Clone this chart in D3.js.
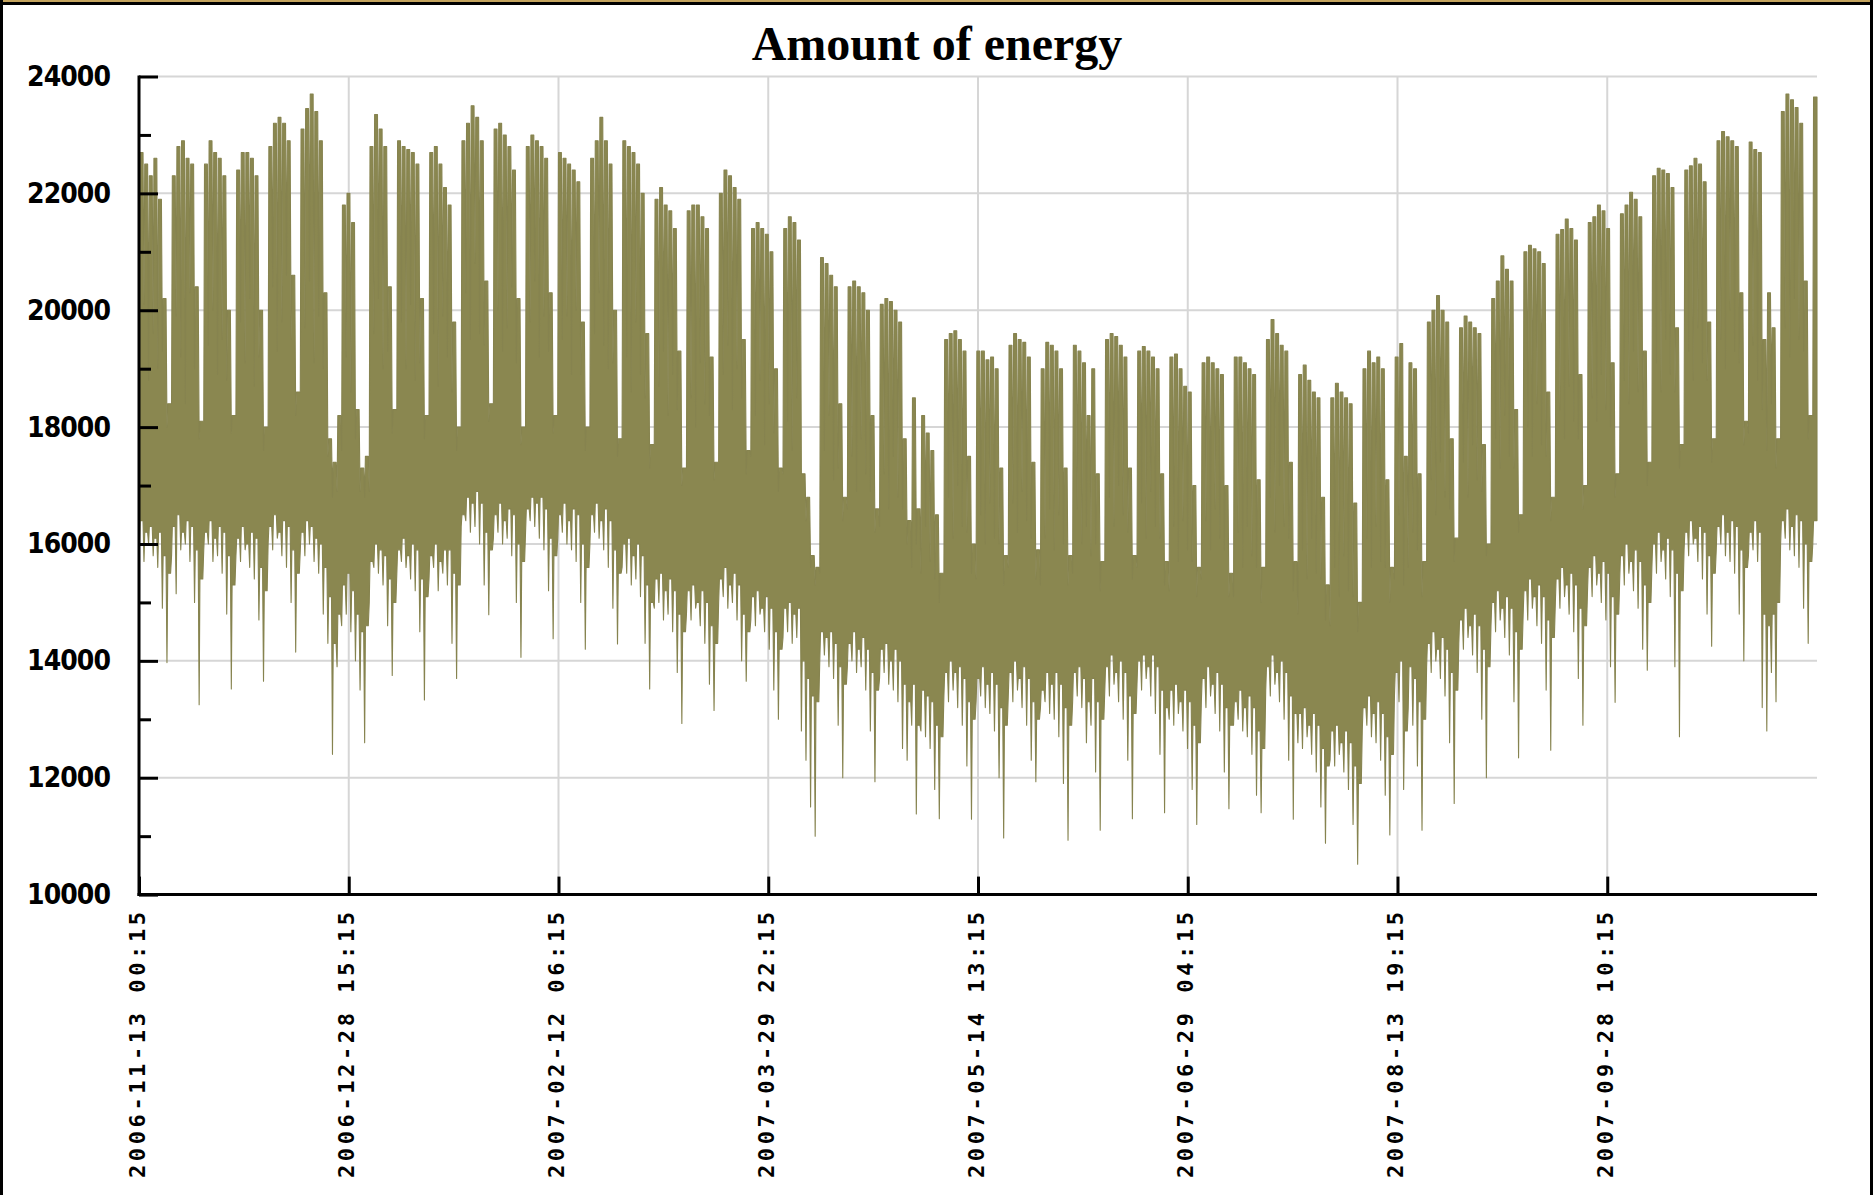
<!DOCTYPE html>
<html>
<head>
<meta charset="utf-8">
<script src="https://cdn.jsdelivr.net/npm/d3@7"></script>
<style>
html, body { margin: 0; padding: 0; background: #fff; }
svg { display: block; }
</style>
</head>
<body>
<svg id="chart" width="1873" height="1195"></svg>
<script>
// daytime maximum per day, one row per week (Mon..Sun), first day 2006-11-13
var dailyPeak = [
  22700, 22500, 22300, 22600, 21900, 20200, 18400,
  22300, 22800, 22900, 22600, 22500, 20400, 18100,
  22500, 22900, 22700, 22600, 22300, 20000, 18200,
  22400, 22700, 22700, 22600, 22300, 20000, 18000,
  22800, 23200, 23300, 23200, 22900, 20600, 18600,
  23100, 23450, 23700, 23400, 22900, 20300, 17800,
  17400, 18200, 21800, 22000, 21500, 18300, 17300,
  17500, 22800, 23350, 23100, 22800, 20400, 18300,
  22900, 22800, 22750, 22700, 22500, 20200, 18200,
  22700, 22800, 22500, 22100, 21800, 19800, 18000,
  22900, 23200, 23500, 23300, 22900, 20500, 18400,
  23100, 23200, 23000, 22800, 22400, 20200, 18000,
  22800, 23000, 22900, 22800, 22600, 20300, 18200,
  22700, 22600, 22500, 22400, 22200, 19800, 18000,
  22600, 22900, 23300, 22900, 22500, 20000, 17800,
  22900, 22800, 22700, 22500, 22000, 19600, 17700,
  21900, 22100, 21800, 21700, 21400, 19300, 17300,
  21700, 21800, 21800, 21600, 21400, 19200, 17400,
  22000, 22400, 22300, 22100, 21900, 19500, 17600,
  21400, 21500, 21400, 21300, 21000, 19000, 17300,
  21400, 21600, 21500, 21200, 17200, 16800, 15800,
  15600, 20900, 20800, 20600, 20400, 18400, 16800,
  20400, 20500, 20400, 20300, 20000, 18200, 16600,
  20100, 20200, 20150, 20000, 19800, 17800, 16400,
  18500, 16600, 18200, 17900, 17600, 16500, 15500,
  19500, 19600, 19650, 19500, 19300, 17500, 16000,
  19300, 19300, 19150, 19200, 19000, 17300, 15800,
  19400, 19600, 19500, 19450, 19200, 17400, 15900,
  19000, 19450, 19400, 19300, 19000, 17300, 15800,
  19400, 19300, 19100, 18200, 19000, 17200, 15700,
  19500, 19600, 19550, 19400, 19200, 17300, 15800,
  19300, 19380, 19300, 19200, 19000, 17200, 15700,
  19200, 19250, 19000, 18700, 18600, 17000, 15600,
  19100, 19200, 19100, 19000, 18900, 17000, 15500,
  19200, 19200, 19100, 19000, 18900, 17100, 15600,
  19500, 19840, 19600, 19400, 19300, 17400, 15700,
  18900, 19060, 18800, 18600, 18500, 16800, 15300,
  18500, 18750, 18600, 18500, 18400, 16700, 15000,
  19000, 19300, 19100, 19200, 19000, 17100, 15600,
  19200, 19430, 17500, 19100, 19000, 17200, 15700,
  19800, 20000, 20250, 20000, 19800, 17800, 16100,
  19700, 19900, 19800, 19700, 19600, 17700, 16000,
  20200, 20500, 20930, 20700, 20500, 18300, 16500,
  21000, 21110, 21050, 21000, 20800, 18600, 16800,
  21300, 21380, 21560, 21400, 21200, 18900, 17000,
  21500, 21600, 21800, 21700, 21400, 19100, 17200,
  21650, 21800, 22020, 21900, 21600, 19300, 17400,
  22300, 22430, 22400, 22340, 22100, 19700, 17700,
  22400, 22470, 22600, 22500, 22200, 19800, 17800,
  22900, 23060, 22970, 22900, 22800, 20300, 18100,
  22880, 22750, 22700, 19500, 20300, 19700, 17800,
  23400, 23700, 23600, 23470, 23200, 20500, 18200,
  23650
];

// night minimum per day, same layout
var dailyLow = [
  15900, 15700, 16000, 15800, 15600, 14900, 13970,
  15800, 15150, 15900, 16000, 15700, 15000, 13250,
  15900, 16000, 15700, 15800, 15500, 14800, 13520,
  15800, 15700, 15900, 15600, 15400, 14700, 13650,
  16000, 15900, 16100, 15800, 15600, 15000, 14150,
  15900, 15800, 16000, 15700, 15500, 14800, 14300,
  12400, 13900, 14600, 14800, 14500, 14000, 13500,
  12600, 15000, 15600, 15500, 15300, 14600, 13750,
  15500, 15700, 15600, 15400, 15200, 14500, 13330,
  15400, 15600, 15200, 15500, 15300, 14300, 13700,
  16300, 16400, 16200, 16300, 16000, 15300, 14790,
  16100, 16200, 16000, 16100, 15800, 15000, 14060,
  16200, 16400, 16300, 16100, 15900, 15200, 14380,
  16100, 16200, 16000, 15900, 15700, 15000, 14200,
  16000, 16200, 16100, 15900, 15600, 14900, 14290,
  15600, 15500, 15300, 15400, 15100, 14300, 13520,
  14900, 15000, 14700, 14800, 14500, 13800, 12930,
  14800, 14700, 14900, 14600, 14300, 13600, 13150,
  15000, 15100, 14900, 15000, 14700, 14000, 13650,
  14700, 14600, 14800, 14500, 14200, 13500, 13000,
  14400, 14500, 14300, 14400, 12800, 12300, 11500,
  11000, 14000, 14100, 13900, 13700, 12900, 12000,
  13900, 14000, 13800, 13900, 13500, 12800, 11930,
  13700, 13800, 13600, 13500, 13300, 12500, 12300,
  12900, 11380, 12800, 12700, 12500, 11800, 11300,
  13400, 13300, 13500, 13200, 12900, 12200, 11290,
  13300, 13400, 13200, 13100, 12800, 12000, 10970,
  13400, 13300, 13500, 13200, 12900, 12300, 11930,
  13200, 13300, 13100, 13000, 12700, 11900, 10930,
  13300, 13400, 13200, 12600, 12900, 12100, 11100,
  13500, 13400, 13600, 13300, 13000, 12300, 11300,
  13600, 13500, 13700, 13400, 13100, 12400, 11400,
  13000, 12900, 13100, 12800, 12500, 11800, 11200,
  13300, 13200, 13400, 13100, 12800, 12100, 11470,
  12900, 13000, 12800, 12700, 12400, 11700, 11400,
  13500, 13400, 13600, 13300, 13000, 12300, 11290,
  12600, 12500, 12700, 12400, 12100, 11500, 10880,
  12300, 12200, 12400, 12100, 11800, 11200, 10520,
  12800, 12900, 12700, 12600, 12300, 11700, 11020,
  13400, 13300, 11800, 13200, 12900, 12200, 11100,
  13900, 13800, 14000, 13700, 13400, 12600, 11560,
  14300, 14200, 14400, 14100, 13800, 13000, 12000,
  14600, 14500, 14700, 14400, 14100, 13300, 12340,
  14800, 14700, 14900, 14600, 14300, 13500, 12470,
  15000, 14900, 15100, 14800, 14500, 13700, 12900,
  15200, 15100, 15300, 15000, 14700, 13900, 13290,
  15400, 15300, 15500, 15200, 14900, 14200, 13840,
  15600, 15500, 15700, 15400, 15100, 13900, 12700,
  15900, 15800, 16000, 15700, 15400, 14800, 14250,
  15900, 16000, 15800, 15700, 15500, 14800, 14000,
  15800, 15900, 15700, 13200, 12800, 13800, 13300,
  16000, 16100, 15900, 15800, 15600, 14900, 14300,
  16000
];

// lowest daytime reading per day
var dailyFloor = [
  16400, 16200, 16300, 16100, 16200, 15800, 15500,
  16300, 16500, 16200, 16400, 16300, 15900, 15400,
  16200, 16400, 16100, 16300, 16200, 15800, 15300,
  16100, 16300, 16000, 16200, 16100, 15600, 15200,
  16300, 16500, 16200, 16400, 16300, 15900, 15500,
  16200, 16400, 16300, 16100, 16000, 15600, 15100,
  14300, 14800, 15300, 15500, 15200, 14800, 14500,
  14600, 15700, 16000, 15900, 15800, 15400, 15000,
  15900, 16100, 15800, 16000, 15900, 15400, 15100,
  15800, 16000, 15700, 15900, 15900, 15500, 15300,
  16500, 16800, 16700, 16900, 16700, 16200, 15900,
  16500, 16700, 16400, 16600, 16500, 16000, 15700,
  16600, 16800, 16700, 16800, 16600, 16100, 15800,
  16500, 16700, 16400, 16600, 16500, 16000, 15600,
  16500, 16700, 16400, 16600, 16400, 15900, 15500,
  16000, 16100, 15800, 16000, 15800, 15300, 15000,
  15400, 15500, 15200, 15400, 15200, 14800, 14500,
  15200, 15300, 15000, 15200, 15000, 14600, 14300,
  15400, 15600, 15300, 15500, 15300, 14800, 14500,
  15100, 15200, 14900, 15100, 14900, 14500, 14200,
  14900, 15000, 14800, 14900, 14000, 13700, 13400,
  13300, 14500, 14400, 14500, 14300, 13900, 13600,
  14300, 14500, 14200, 14400, 14200, 13800, 13500,
  14200, 14300, 14000, 14200, 14000, 13600, 13300,
  13600, 12900, 13500, 13400, 13300, 12900, 12700,
  13800, 14000, 13800, 13900, 13700, 13300, 13000,
  13700, 13900, 13600, 13800, 13600, 13200, 12900,
  13800, 14000, 13700, 13900, 13700, 13300, 13000,
  13500, 13800, 13600, 13800, 13600, 13200, 12900,
  13800, 13900, 13700, 13300, 13700, 13300, 13000,
  13900, 14100, 13800, 14000, 13800, 13400, 13100,
  14000, 14100, 13900, 14100, 13900, 13500, 13200,
  13500, 13600, 13300, 13500, 13300, 12900, 12600,
  13700, 13900, 13600, 13800, 13600, 13200, 12900,
  13300, 13500, 13200, 13400, 13200, 12800, 12500,
  13900, 14100, 13800, 14000, 13800, 13400, 13100,
  13100, 13200, 12900, 13100, 12900, 12500, 12200,
  12800, 12900, 12600, 12800, 12600, 12200, 11900,
  13200, 13400, 13100, 13300, 13100, 12700, 12400,
  13800, 14000, 12800, 13900, 13700, 13300, 13000,
  14300, 14500, 14200, 14400, 14200, 13800, 13500,
  14700, 14900, 14600, 14800, 14600, 14200, 13900,
  15000, 15200, 14900, 15100, 14900, 14500, 14200,
  15200, 15400, 15100, 15300, 15100, 14700, 14400,
  15400, 15600, 15300, 15500, 15300, 14900, 14600,
  15600, 15800, 15500, 15700, 15500, 15100, 14800,
  15800, 16000, 15700, 15900, 15700, 15300, 15000,
  16000, 16200, 15900, 16100, 15900, 15500, 15200,
  16200, 16400, 16100, 16300, 16200, 15800, 15500,
  16300, 16500, 16200, 16400, 16300, 15900, 15600,
  16200, 16400, 16200, 14800, 14600, 14800, 15000,
  16400, 16600, 16300, 16500, 16400, 16000, 15700,
  16400
];

// highest reading during the night before each day
var dailyNightTop = [
  19500, 20100, 18800, 19600, 19000, 19300, 18000,
  18600, 19900, 19200, 18400, 20300, 19000, 17800,
  18700, 19400, 20000, 18900, 19500, 18800, 17900,
  18500, 19800, 19100, 20200, 18700, 19200, 17600,
  19000, 20400, 19300, 19800, 20600, 19500, 18200,
  18900, 19700, 20500, 19100, 19900, 19000, 17500,
  16800, 16900, 17600, 19200, 18600, 17800, 16900,
  16800, 16900, 19600, 20200, 19000, 19300, 17900,
  18600, 19800, 19000, 20100, 18800, 19100, 17800,
  18400, 19600, 18700, 19900, 19200, 18600, 17600,
  19200, 20300, 19500, 20800, 19600, 19400, 18100,
  18800, 20000, 19300, 19700, 20400, 19100, 17700,
  18900, 19800, 20500, 19200, 19900, 19300, 17900,
  18700, 19500, 19900, 18900, 20000, 18900, 17600,
  18500, 19600, 20300, 19400, 19000, 19100, 17500,
  18400, 19200, 18600, 19800, 18900, 18500, 17300,
  17800, 18700, 19300, 18200, 18900, 18300, 17000,
  17600, 18500, 18000, 19100, 18400, 18200, 17100,
  17800, 18900, 19400, 18300, 19000, 18500, 17200,
  17500, 18200, 18800, 17700, 18400, 17900, 16900,
  17200, 18100, 17600, 18500, 17800, 16400, 15600,
  15300, 15500, 17600, 18200, 17100, 17300, 16400,
  16600, 17500, 16900, 17800, 17200, 16900, 16200,
  16300, 17200, 16600, 17500, 16800, 16600, 16000,
  15600, 16000, 15500, 16300, 15700, 15400, 15000,
  15500, 16800, 16100, 17000, 16300, 16200, 15500,
  15400, 16500, 16000, 16700, 16100, 16000, 15300,
  15600, 16700, 16200, 16900, 16400, 16100, 15400,
  15300, 16100, 16600, 15900, 16500, 16000, 15300,
  15500, 16600, 16000, 16300, 15800, 16000, 15200,
  15700, 16800, 16300, 17000, 16500, 16200, 15400,
  15600, 16700, 16100, 16900, 16300, 16100, 15300,
  15200, 16300, 15700, 16400, 15900, 15700, 15100,
  15400, 16400, 15900, 16600, 16100, 15900, 15100,
  15100, 16200, 15600, 16300, 15800, 15600, 15000,
  15600, 16800, 16200, 17000, 16300, 16100, 15200,
  14800, 15900, 15400, 16100, 15500, 15400, 14700,
  14600, 15600, 15100, 15800, 15200, 15100, 14500,
  15000, 16100, 15600, 16300, 15700, 15600, 15000,
  15400, 16500, 15300, 15600, 16200, 15900, 15100,
  16000, 17100, 16500, 17400, 16800, 16600, 15700,
  16300, 17400, 16800, 17700, 17100, 16900, 15800,
  16700, 17800, 17300, 18200, 17500, 17300, 16200,
  16900, 18000, 17500, 18400, 17700, 17500, 16400,
  17200, 18300, 17800, 18700, 18100, 17800, 16600,
  17400, 18500, 18100, 18900, 18300, 18000, 16800,
  17700, 18800, 18400, 19300, 18600, 18300, 17000,
  17900, 19100, 18600, 19500, 18900, 18600, 17300,
  18100, 19300, 18800, 19700, 19100, 18800, 17400,
  18300, 19500, 19000, 20000, 19300, 19100, 17700,
  17900, 19400, 18800, 18300, 17600, 18400, 17300,
  18500, 19700, 19200, 20200, 19500, 19300, 17800,
  18400
];

var xTickLabels = ["2006-11-13 00:15", "2006-12-28 15:15", "2007-02-12 06:15",
  "2007-03-29 22:15", "2007-05-14 13:15", "2007-06-29 04:15",
  "2007-08-13 19:15", "2007-09-28 10:15"];
var yTickValues = [10000, 12000, 14000, 16000, 18000, 20000, 22000, 24000];
var yMinorValues = [11000, 13000, 15000, 17000, 19000, 21000, 23000];

var PER_DAY = 96;      // 15 minute readings
var TICK_STEP = 4380;  // readings between labelled ticks
var N = dailyPeak.length * PER_DAY;

var svg = d3.select('#chart')
var plotL = 139, plotR = 1817, plotT = 76.5, plotB = 894.6

var x = d3.scaleLinear().domain([0, N]).range([plotL, plotR])
var y = d3.scaleLinear().domain([10000, 24000]).range([plotB, plotT])

svg.append('rect').attr('width', 1873).attr('height', 1195).attr('fill', '#fff')

// grid
var xTicks = xTickLabels.map(function(l, k) { return k * TICK_STEP })
svg.append('g').selectAll('line').data(yTickValues).enter().append('line')
    .attr('x1', plotL).attr('x2', plotR)
    .attr('y1', function(d) { return y(d) }).attr('y2', function(d) { return y(d) })
    .attr('stroke', '#d6d6d6').attr('stroke-width', 2)
svg.append('g').selectAll('line').data(xTicks).enter().append('line')
    .attr('x1', function(d) { return x(d) }).attr('x2', function(d) { return x(d) })
    .attr('y1', plotT).attr('y2', plotB)
    .attr('stroke', '#d6d6d6').attr('stroke-width', 2)

// band of the readings: night point (02:00), then the daytime plateau (06:00-21:00)
var slots = []
dailyPeak.forEach(function(p, d) {
    var prev = d > 0 ? dailyPeak[d - 1] : p
    var nightTop = Math.min(dailyNightTop[d], p, prev)
    var floor = Math.min(dailyFloor[d], p)
    slots.push({i: d * PER_DAY + 8, lo: dailyLow[d], hi: nightTop})
    slots.push({i: d * PER_DAY + 24, lo: floor, hi: p})
    slots.push({i: d * PER_DAY + 84, lo: floor, hi: p})
})
slots.unshift({i: 0, lo: slots[0].lo, hi: slots[0].hi})
var last = slots[slots.length - 1]
slots.push({i: N, lo: last.lo, hi: last.hi})

var area = d3.area()
    .x(function(d) { return x(d.i) })
    .y0(function(d) { return y(d.lo) })
    .y1(function(d) { return y(d.hi) })

svg.append('path')
    .datum(slots)
    .attr('d', area)
    .attr('fill', '#8a8750')
    .attr('stroke', '#86834f')
    .attr('stroke-width', 1.1)
    .attr('stroke-linejoin', 'round')

// axes
var yAxis = d3.axisLeft(y).tickValues(yTickValues).tickSize(-19).tickPadding(28)
    .tickFormat(d3.format('d'))
var gy = svg.append('g').attr('transform', 'translate(' + plotL + ',0)').call(yAxis)
gy.select('.domain').remove()
gy.selectAll('.tick line').attr('stroke', '#000').attr('stroke-width', 3)
gy.selectAll('.tick text')
    .attr('font-family', '"Liberation Sans Narrow", "DejaVu Sans Condensed", sans-serif')
    .attr('font-weight', 'bold').attr('font-size', 28).attr('fill', '#000')
    .attr('textLength', 84).attr('lengthAdjust', 'spacing')

var gyMinor = svg.append('g').attr('transform', 'translate(' + plotL + ',0)')
    .call(d3.axisLeft(y).tickValues(yMinorValues).tickSize(-12).tickFormat(''))
gyMinor.select('.domain').remove()
gyMinor.selectAll('.tick line').attr('stroke', '#000').attr('stroke-width', 3)

var gx = svg.append('g').attr('transform', 'translate(0,' + plotB + ')')
    .call(d3.axisBottom(x).tickValues(xTicks).tickSize(-18).tickFormat(''))
gx.select('.domain').remove()
gx.selectAll('.tick line').attr('stroke', '#000').attr('stroke-width', 3)

svg.append('line').attr('x1', plotL).attr('x2', plotL).attr('y1', plotT - 1).attr('y2', plotB + 1.5)
    .attr('stroke', '#000').attr('stroke-width', 3)
svg.append('line').attr('x1', plotL - 1.5).attr('x2', plotR).attr('y1', plotB).attr('y2', plotB)
    .attr('stroke', '#000').attr('stroke-width', 3)

// rotated date labels
svg.append('g').selectAll('text').data(xTickLabels).enter().append('text')
    .attr('transform', function(d, k) { return 'translate(' + (x(xTicks[k]) - 2) + ',912) rotate(-90)' })
    .attr('text-anchor', 'end')
    .attr('dy', '0.35em')
    .attr('font-family', '"DejaVu Sans Mono", monospace')
    .attr('font-weight', 'bold').attr('font-size', 22)
    .attr('textLength', 266).attr('lengthAdjust', 'spacing')
    .text(function(d) { return d })

// title
svg.append('text')
    .attr('x', 937).attr('y', 60)
    .attr('text-anchor', 'middle')
    .attr('font-family', '"Liberation Serif", "Times New Roman", serif')
    .attr('font-weight', 'bold').attr('font-size', 48)
    .text('Amount of energy')

// frame
svg.append('rect').attr('x', 0).attr('y', 0).attr('width', 1873).attr('height', 2).attr('fill', '#c4a45e')
svg.append('rect').attr('x', 0).attr('y', 2).attr('width', 1873).attr('height', 3).attr('fill', '#000')
svg.append('rect').attr('x', 0).attr('y', 0).attr('width', 3).attr('height', 1195).attr('fill', '#000')
svg.append('rect').attr('x', 1870).attr('y', 0).attr('width', 3).attr('height', 1195).attr('fill', '#000')
</script>
</body>
</html>
